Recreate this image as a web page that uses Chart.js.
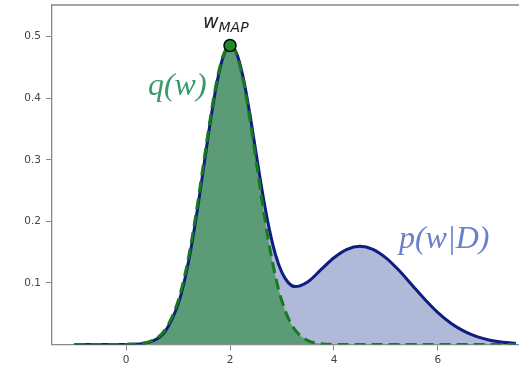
<!DOCTYPE html>
<html>
<head>
<meta charset="utf-8">
<script src="https://cdn.jsdelivr.net/npm/chart.js@4.4.0/dist/chart.umd.min.js"></script>
<style>
  html, body { margin: 0; padding: 0; background: #fff; }
  canvas { display: block; }
</style>
</head>
<body>
<canvas id="myChart" width="519" height="367"></canvas>
<script>
// w values the curves are sampled at
const wValues = [-1, -0.75, -0.5, -0.25, 0, 0.25, 0.5, 0.75, 1, 1.125, 1.25, 1.375, 1.5, 1.625, 1.75, 1.875,
  2, 2.125, 2.25, 2.375, 2.5, 2.625, 2.75, 2.875, 3, 3.125, 3.25, 3.5, 3.75, 4, 4.25, 4.5, 4.75,
  5, 5.25, 5.5, 5.75, 6, 6.25, 6.5, 6.75, 7, 7.25, 7.5];

// posterior p(w|D)
const pValues = [0, 0, 0, 0, 0.0002, 0.001, 0.0053, 0.0211, 0.0652, 0.104, 0.1562, 0.2204, 0.2921, 0.3639, 0.4261, 0.4691,
  0.4857, 0.4735, 0.4352, 0.378, 0.3119, 0.2467, 0.1899, 0.1461, 0.1166, 0.1001, 0.0941, 0.1021, 0.1216, 0.141, 0.1547, 0.1596, 0.1547,
  0.1408, 0.1205, 0.0968, 0.0731, 0.0518, 0.0345, 0.0216, 0.0127, 0.007, 0.0036, 0.0018];

// laplace approximation q(w)
const qValues = [0, 0, 0, 0, 0.0002, 0.0013, 0.0063, 0.0237, 0.0703, 0.1105, 0.1637, 0.2283, 0.2996, 0.3701, 0.4304, 0.4712,
  0.4857, 0.4712, 0.4304, 0.3701, 0.2996, 0.2283, 0.1637, 0.1105, 0.0703, 0.0421, 0.0237, 0.0063, 0.0013, 0.0002, 0, 0, 0,
  0, 0, 0, 0, 0, 0, 0, 0, 0, 0, 0];

const wMap = [2];
const pMap = [0.4857];

const xTicks = [0, 2, 4, 6];
const yTicks = [0.1, 0.2, 0.3, 0.4, 0.5];

const toPoints = function(xs, ys) {
  return xs.map(function(x, i) { return {x: x, y: ys[i]}; });
};

// labels + top spine
const extras = {
  id: 'extras',
  afterDatasetsDraw(chart) {
    const ctx = chart.ctx;
    const xs = chart.scales.x, ys = chart.scales.y;
    const a = chart.chartArea;
    ctx.save();
    ctx.strokeStyle = '#888';
    ctx.lineWidth = 1.3;
    ctx.beginPath();
    ctx.moveTo(a.left, a.top);
    ctx.lineTo(a.right, a.top);
    ctx.stroke();

    ctx.textBaseline = 'alphabetic';
    ctx.textAlign = 'left';
    ctx.fillStyle = '#3a9a6c';
    ctx.font = 'italic 32px "Liberation Serif"';
    ctx.fillText('q(w)', xs.getPixelForValue(0.42), ys.getPixelForValue(0.405));

    ctx.fillStyle = '#6a80cc';
    ctx.fillText('p(w|D)', xs.getPixelForValue(5.25), ys.getPixelForValue(0.157));

    ctx.fillStyle = '#222';
    ctx.font = 'italic 19px "DejaVu Sans"';
    const wx = xs.getPixelForValue(1.48);
    ctx.fillText('w', wx, ys.getPixelForValue(0.514));
    const ww = ctx.measureText('w').width;
    ctx.font = 'italic 14px "DejaVu Sans"';
    ctx.fillText('MAP', wx + ww, ys.getPixelForValue(0.508));
    ctx.restore();
  }
};

const ctx = document.getElementById('myChart').getContext('2d');
const myChart = new Chart(ctx, {
  type: 'line',
  data: {
    datasets: [
      {
        type: 'scatter',
        data: toPoints(wMap, pMap),
        pointRadius: 6,
        pointBackgroundColor: '#1f8a2c',
        pointBorderColor: '#000',
        pointBorderWidth: 1.5,
        order: 0
      },
      {
        data: toPoints(wValues, qValues),
        borderColor: '#187a1f',
        borderWidth: 3,
        borderDash: [11, 6],
        backgroundColor: '#5b9b75',
        fill: 'origin',
        pointRadius: 0,
        cubicInterpolationMode: 'monotone',
        order: 1
      },
      {
        data: toPoints(wValues, pValues),
        borderColor: '#0d1d80',
        borderWidth: 3,
        backgroundColor: '#b1b9d9',
        fill: 'origin',
        pointRadius: 0,
        cubicInterpolationMode: 'monotone',
        order: 2
      }
    ]
  },
  options: {
    responsive: false,
    animation: false,
    layout: { autoPadding: false, padding: { top: 5, left: 0, right: 0, bottom: 0 } },
    plugins: {
      legend: { display: false },
      tooltip: { enabled: false },
      filler: { drawTime: 'beforeDatasetsDraw' }
    },
    scales: {
      x: {
        type: 'linear',
        min: -1.425,
        max: 7.56,
        afterBuildTicks: function(scale) { scale.ticks = xTicks.map(function(v) { return {value: v}; }); },
        afterFit: function(scale) { scale.height = 22.5; scale.paddingLeft = 0; scale.paddingRight = 0; },
        grid: { drawOnChartArea: false, color: '#888', tickLength: 6 },
        border: { color: '#888', width: 1.3 },
        ticks: { color: '#444', font: { family: 'DejaVu Sans', size: 10.5 }, padding: 3, maxRotation: 0 }
      },
      y: {
        min: 0,
        max: 0.5515,
        afterBuildTicks: function(scale) { scale.ticks = yTicks.map(function(v) { return {value: v}; }); },
        afterFit: function(scale) { scale.width = 52; scale.paddingTop = 0; scale.paddingBottom = 0; },
        grid: { drawOnChartArea: false, color: '#888', tickLength: 6 },
        border: { color: '#888', width: 1.3 },
        ticks: { color: '#444', font: { family: 'DejaVu Sans', size: 10.5 }, padding: 5,
          callback: function(v) { return v.toFixed(1); } }
      }
    }
  },
  plugins: [extras]
});
</script>
</body>
</html>
